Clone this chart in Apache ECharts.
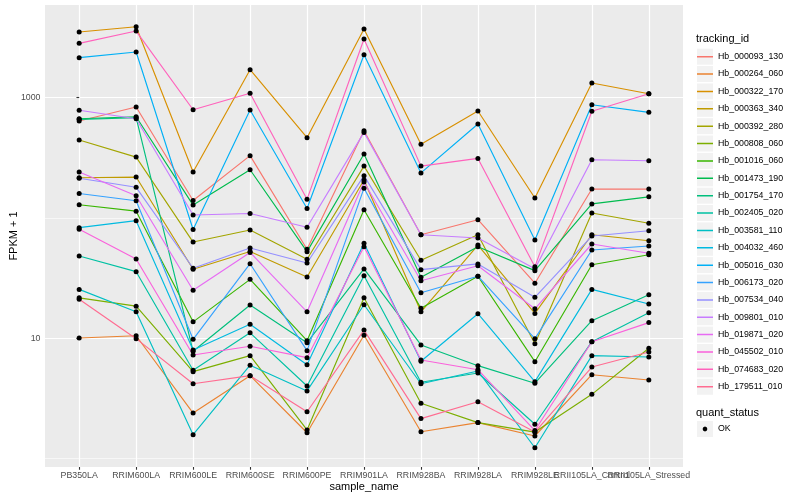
<!DOCTYPE html>
<html>
<head>
<meta charset="utf-8">
<script src="https://cdn.jsdelivr.net/npm/echarts@6/dist/echarts.min.js"></script>
<style>html,body{margin:0;padding:0;background:#fff}#c{width:800px;height:500px}</style>
</head>
<body>
<div id="c"></div>
<script>
const categories = ['PB350LA','RRIM600LA','RRIM600LE','RRIM600SE','RRIM600PE','RRIM901LA','RRIM928BA','RRIM928LA','RRIM928LE','RRII105LA_Control','RRII105LA_Stressed'];
const trackingIds = ['Hb_000093_130','Hb_000264_060','Hb_000322_170','Hb_000363_340','Hb_000392_280','Hb_000808_060','Hb_001016_060','Hb_001473_190','Hb_001754_170','Hb_002405_020','Hb_003581_110','Hb_004032_460','Hb_005016_030','Hb_006173_020','Hb_007534_040','Hb_009801_010','Hb_019871_020','Hb_045502_010','Hb_074683_020','Hb_179511_010'];
const lineColors = ['#F8766D','#EA8331','#D89000','#C09B00','#A3A500','#7CAE00','#39B600','#00BB4E','#00BF7D','#00C1A3','#00BFC4','#00BAE0','#00B0F6','#35A2FF','#9590FF','#C77CFF','#E76BF3','#FA62DB','#FF62BC','#FF6C91'];

// FPKM + 1 per sample (same order as categories)
const hb_000093_130 = [640, 837, 140, 330, 55, 532, 72.6, 96.8, 28.7, 174, 174];
const hb_000264_060 = [10.06, 10.5, 2.39, 4.89, 1.64, 10.6, 1.67, 1.99, 1.54, 4.98, 4.5];
const hb_000322_170 = [3516, 3890, 241, 1710, 465, 3724, 410, 775, 146.6, 1325, 1079];
const hb_000363_340 = [216, 219, 37.5, 52.7, 32.3, 207, 16.6, 59.6, 16.1, 72.6, 64.7];
const hb_000392_280 = [445, 321, 63.1, 79.5, 45.4, 270, 44.5, 72.7, 9.02, 110, 90.4];
const hb_000808_060 = [21.7, 18.5, 5.28, 7.17, 1.73, 21.7, 2.88, 1.99, 1.66, 3.42, 8.26];
const hb_001016_060 = [129, 114, 13.7, 30.9, 9.55, 117, 17.8, 32.8, 6.39, 40.9, 49.5];
const hb_001473_190 = [669, 695, 128, 252, 52.5, 340, 32.1, 57.7, 36.5, 131, 150];
const hb_001754_170 = [661, 682, 7.8, 18.9, 9.19, 37.7, 8.8, 5.92, 4.23, 14.0, 23.0];
const hb_002405_020 = [48.3, 35.8, 5.42, 11.1, 4.01, 33.1, 4.31, 5.15, 1.93, 9.37, 16.3];
const hb_003581_110 = [25.5, 16.6, 1.58, 5.97, 3.65, 19.0, 4.19, 5.35, 1.23, 7.17, 6.99];
const hb_004032_460 = [83.1, 95.0, 8.0, 13.1, 6.03, 61.6, 6.44, 16.0, 4.36, 25.5, 19.3];
const hb_005016_030 = [2153, 2399, 80.2, 790, 120, 2277, 237, 604, 65.6, 875, 756];
const hb_006173_020 = [160, 139, 9.81, 41.7, 7.89, 177, 23.9, 32.8, 9.93, 54.2, 58.5];
const hb_007534_040 = [214, 180, 38.2, 56.3, 42.3, 225, 37.2, 41.5, 21.9, 70.8, 78.4];
const hb_009801_010 = [786, 669, 106, 109, 83.7, 515, 72.6, 68.2, 37.9, 305, 299];
const hb_019871_020 = [241, 153, 25.1, 51.7, 16.6, 199, 30.1, 40.1, 17.6, 60.8, 50.9];
const hb_045502_010 = [80.5, 45.6, 7.26, 8.58, 6.9, 57.7, 6.6, 5.48, 1.71, 9.37, 13.5];
const hb_074683_020 = [2831, 3584, 794, 1088, 143, 3076, 270, 313, 39.4, 771, 1079];
const hb_179511_010 = [21.1, 9.93, 4.19, 4.89, 2.45, 11.7, 2.15, 2.97, 1.66, 5.77, 7.69];

const seriesValues = [hb_000093_130, hb_000264_060, hb_000322_170, hb_000363_340, hb_000392_280, hb_000808_060, hb_001016_060, hb_001473_190, hb_001754_170, hb_002405_020, hb_003581_110, hb_004032_460, hb_005016_030, hb_006173_020, hb_007534_040, hb_009801_010, hb_019871_020, hb_045502_010, hb_074683_020, hb_179511_010];

const yMajorTicks = [10, 1000];
const yMajorLabels = ['10', '1000'];
const yMinorTicks = [1, 100];
const quantStatus = ['OK'];

const font = '"Liberation Sans", Arial, Helvetica, sans-serif';
const catIdx = categories.map((_, i) => i);
const X_MIN = -0.6, X_MAX = 10.6;
const Y_MIN = 0.851, Y_MAX = 5900;

const lineIcon = 'path://M0,0L0.01,0L0.01,0.01Z M15.99,15.99L16,15.99L16,16Z M0,7.25L16,7.25L16,8.75L0,8.75Z';
const dotIcon = 'path://M0,0L0.01,0L0.01,0.01Z M15.99,15.99L16,15.99L16,16Z M10.4,8L9.7,9.7L8,10.4L6.3,9.7L5.6,8L6.3,6.3L8,5.6L9.7,6.3Z';

const lineSeries = trackingIds.map((id, k) => ({
  name: id,
  type: 'line',
  color: lineColors[k],
  data: seriesValues[k].map((v, i) => [i, v]),
  showSymbol: false,
  symbol: 'none',
  lineStyle: { width: 1.15, color: lineColors[k] },
  itemStyle: { color: lineColors[k] },
  emphasis: { disabled: true },
  silent: true,
  z: 2
}));

const points = [];
seriesValues.forEach(arr => arr.forEach((v, i) => points.push([i, v])));
const pointSeries = {
  name: quantStatus[0],
  type: 'scatter',
  data: points,
  symbol: 'circle',
  symbolSize: 5,
  itemStyle: { color: '#000', opacity: 1 },
  emphasis: { disabled: true },
  silent: true,
  z: 3
};

const legendCommon = {
  orient: 'vertical', left: 697, padding: 0,
  itemWidth: 16, itemHeight: 16, itemGap: 1.37,
  selectedMode: false,
  textStyle: { fontSize: 8.8, fontFamily: font, color: '#000' }
};

const option = {
  animation: false,
  backgroundColor: '#fff',
  title: [
    { text: 'tracking_id', left: 696, top: 33, padding: 0, textStyle: { fontSize: 11, fontWeight: 'normal', fontFamily: font, color: '#000' } },
    { text: 'quant_status', left: 696, top: 407, padding: 0, textStyle: { fontSize: 11, fontWeight: 'normal', fontFamily: font, color: '#000' } }
  ],
  legend: [
    Object.assign({}, legendCommon, { id: 'bg1', data: trackingIds, top: 48.7, icon: 'rect', itemStyle: { color: '#F2F2F2', borderWidth: 0 }, textStyle: { fontSize: 8.8, fontFamily: font, color: 'rgba(0,0,0,0)' }, z: 1 }),
    Object.assign({}, legendCommon, { id: 'fg1', data: trackingIds, top: 48.7, icon: lineIcon, itemStyle: { borderWidth: 0 }, z: 2 }),
    Object.assign({}, legendCommon, { id: 'bg2', data: quantStatus, top: 421, icon: 'rect', itemStyle: { color: '#F2F2F2', borderWidth: 0 }, textStyle: { fontSize: 8.8, fontFamily: font, color: 'rgba(0,0,0,0)' }, z: 1 }),
    Object.assign({}, legendCommon, { id: 'fg2', data: quantStatus, top: 421, icon: dotIcon, itemStyle: { borderWidth: 0 }, z: 2 })
  ],
  grid: { left: 45, right: 117, top: 5, bottom: 33, show: true, backgroundColor: '#EBEBEB', borderWidth: 0, containLabel: false, outerBoundsMode: 'none' },
  xAxis: {
    type: 'value', min: X_MIN, max: X_MAX,
    axisLine: { show: false },
    axisTick: { show: true, customValues: catIdx, length: 2.75, lineStyle: { color: '#333333', width: 1.1 } },
    axisLabel: {
      customValues: catIdx.concat([X_MAX]),
      formatter: v => { const i = Math.round(v); return Math.abs(v - i) < 1e-6 ? categories[i] : ''; },
      color: '#4D4D4D', fontSize: 8.8, fontFamily: font, margin: 4.5, hideOverlap: false, showMinLabel: true, showMaxLabel: false
    },
    splitLine: { show: true, lineStyle: { color: '#FFFFFF', width: 1.2 } },
    name: 'sample_name', nameLocation: 'middle', nameGap: 14, nameMoveOverlap: false,
    nameTextStyle: { color: '#000', fontSize: 11, fontFamily: font }
  },
  yAxis: [
    {
      type: 'log', logBase: 10, min: Y_MIN, max: Y_MAX,
      axisLine: { show: false },
      axisTick: { show: true, customValues: yMajorTicks, length: 2.75, lineStyle: { color: '#333333', width: 1.1 } },
      axisLabel: { customValues: yMajorTicks, formatter: v => { const i = yMajorTicks.indexOf(v); return i >= 0 ? yMajorLabels[i] : ''; }, color: '#4D4D4D', fontSize: 8.8, fontFamily: font, margin: 4.5, showMinLabel: true, showMaxLabel: true },
      splitLine: { show: true, lineStyle: { color: '#FFFFFF', width: 1.2 } },
      name: 'FPKM + 1', nameLocation: 'middle', nameGap: 26, nameRotate: 90, nameMoveOverlap: false,
      nameTextStyle: { color: '#000', fontSize: 11, fontFamily: font }
    },
    {
      type: 'log', logBase: 10, min: Y_MIN, max: Y_MAX, position: 'left',
      axisLine: { show: false },
      axisTick: { show: false, customValues: yMinorTicks },
      axisLabel: { show: false, customValues: yMinorTicks },
      splitLine: { show: true, lineStyle: { color: '#FFFFFF', width: 0.6 } }
    }
  ],
  series: lineSeries.concat([pointSeries])
};

const chart = echarts.init(document.getElementById('c'));
chart.setOption(option);
</script>
</body>
</html>
